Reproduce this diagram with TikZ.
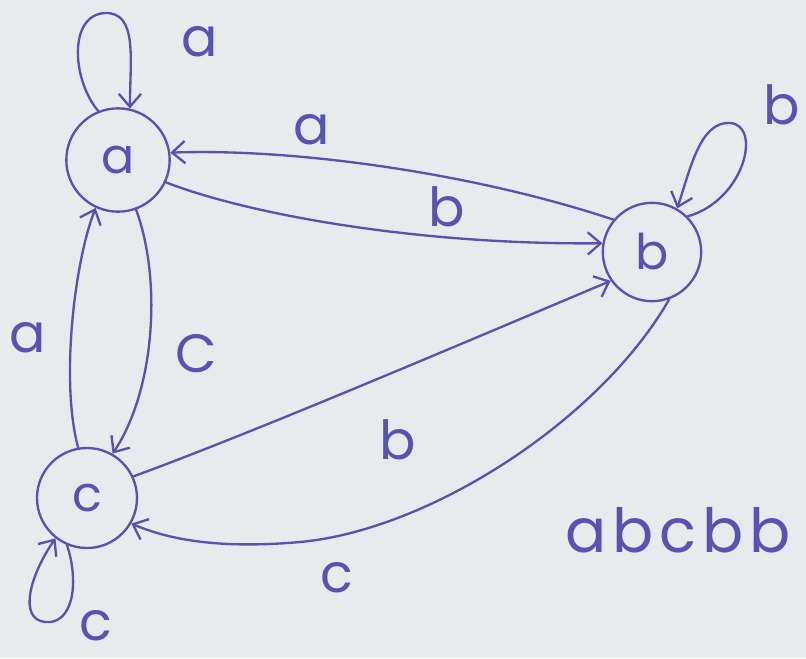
\documentclass[tikz,border=0pt]{standalone}
\usepackage{fontspec}
\setmainfont{Poppins}
\usetikzlibrary{arrows.meta}
\definecolor{ink}{RGB}{88,82,180}
\definecolor{paper}{RGB}{232,235,237}
\begin{document}
\begin{tikzpicture}[x=0.03cm,y=-0.03cm,
  st/.style={circle,draw=ink,line width=2pt,inner sep=0pt,text=ink,font=\fontsize{42}{42}\selectfont},
  lab/.style={text=ink,font=\fontsize{46}{46}\selectfont,inner sep=0pt},
  edge/.style={draw=ink,line width=2pt,line cap=round,-{Straight Barb[length=11pt,width=19pt,line width=2pt]}}]
\fill[paper] (0,0) rectangle (806,658);
\useasboundingbox (0,0) rectangle (806,658);
% states
\node[st,minimum size=3.1cm] (a) at (118,160) {a};
\node[st,minimum size=2.95cm] (b) at (652,252) {b};
\node[st,minimum size=3cm] (c) at (87,498) {c};
% loops
\draw[edge] (a.112) .. controls (72,80) and (68,15) .. (105,13) .. controls (138,12) and (130,60) .. (a.77);
\draw[edge] (b.45) .. controls (745,200) and (762,125) .. (730,123) .. controls (700,121) and (690,170) .. (b.60);
\draw[edge] (c.247) .. controls (80,585) and (72,625) .. (45,622) .. controls (18,619) and (30,575) .. (c.232);
% transitions
\draw[edge] (b.140) .. controls (480,175) and (300,148) .. (a.8);
\draw[edge] (a.-25) .. controls (250,215) and (420,245) .. (b.170);
\draw[edge] (a.-70) .. controls (162,280) and (155,390) .. (c.60);
\draw[edge] (c.100) .. controls (60,380) and (75,260) .. (a.-115);
\draw[edge] (c.25) .. controls (260,430) and (470,340) .. (b.-145);
\draw[edge] (b.-70) .. controls (600,420) and (430,530) .. (300,542) .. controls (220,549) and (170,540) .. (c.-30);
% labels
\node[lab] (la1) at (200,42) {a};
\node[lab] (lb1) at (782,105) {b};
\node[lab] (la2) at (312,130) {a};
\node[lab] (lb2) at (447,207) {b};
\node[lab] (la3) at (28,338) {a};
\node[lab] (lc1) at (196,354) {C};
\node[lab] (lb3) at (398,440) {b};
\node[lab] (lc2) at (337,578) {c};
\node[lab] (lc3) at (96,626) {c};
\node[lab,font=\fontsize{52}{52}\selectfont] (w) at (678,530) {a\hspace{5pt}b\hspace{5pt}c\hspace{5pt}b\hspace{5pt}b};
\end{tikzpicture}
\end{document}
